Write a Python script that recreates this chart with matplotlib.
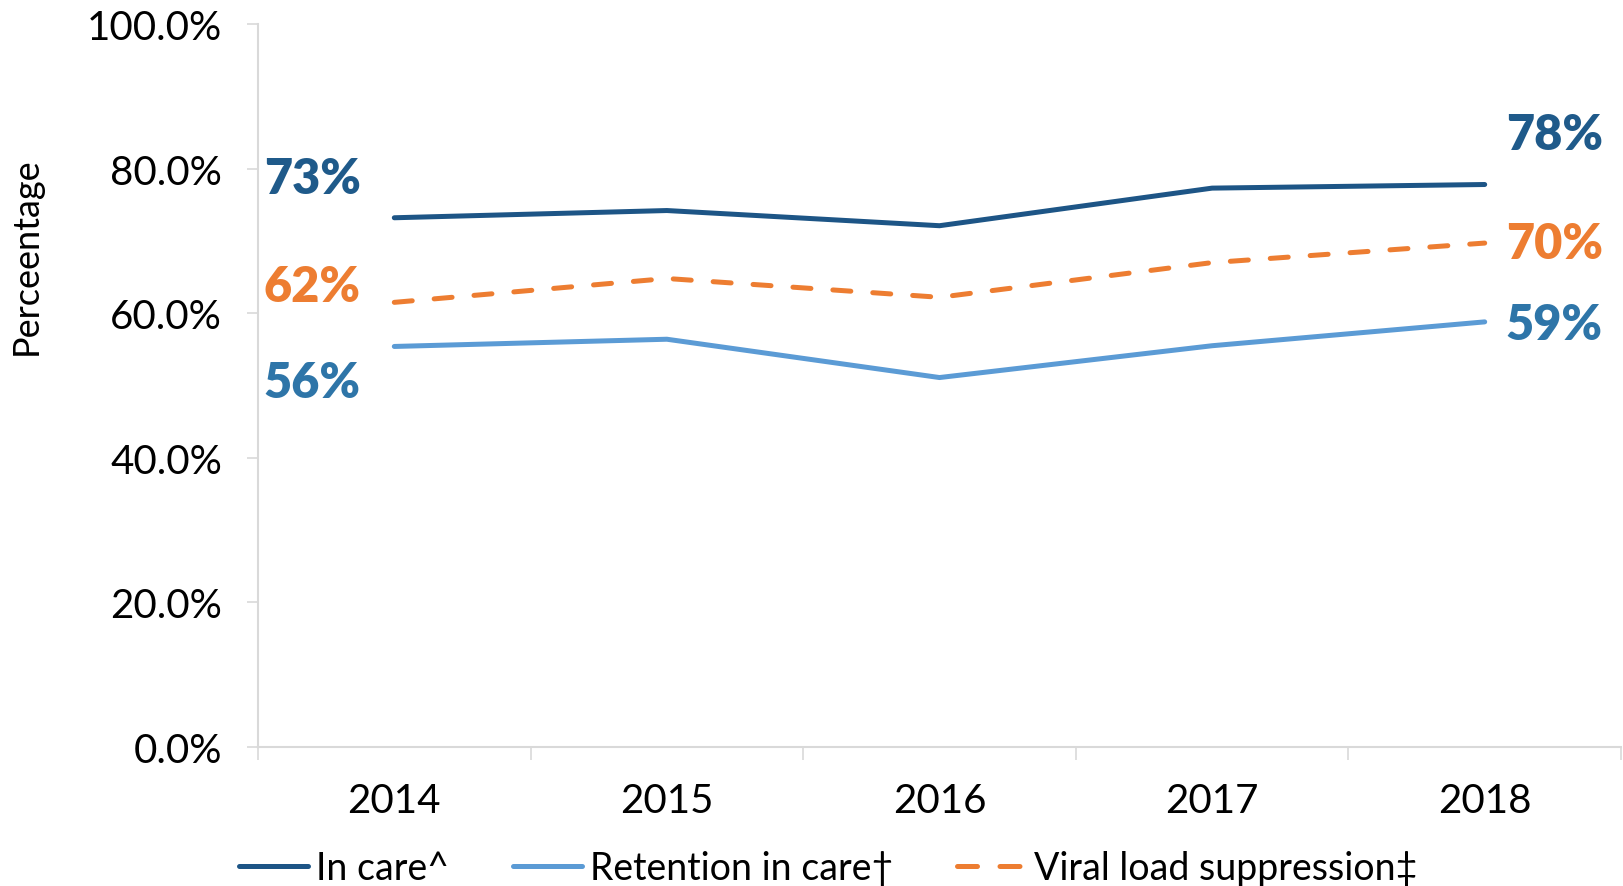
import matplotlib
matplotlib.use("Agg")
import matplotlib.pyplot as plt
from matplotlib.lines import Line2D

plt.rcParams['font.family'] = ['Lato', 'DejaVu Sans']

years = ["2014", "2015", "2016", "2017", "2018"]
in_care = [73.2, 74.2, 72.1, 77.3, 77.8]
retention = [55.4, 56.4, 51.1, 55.5, 58.8]
vls = [61.5, 64.8, 62.2, 67.0, 69.7]

series_names = ["In care^", "Retention in care\u2020", "Viral load suppression\u2021"]
start_labels = ["73%", "56%", "62%"]
end_labels = ["78%", "59%", "70%"]

c_care = "#1d5586"
c_ret = "#5b9bd5"
c_vls = "#ed7d31"
c_lab_care = "#1f5a8a"
c_lab_ret = "#2e75a8"

fig = plt.figure(figsize=(16.23, 8.87), dpi=100)
ax = fig.add_axes([258/1623, 139/887, (1621-258)/1623, (748-25)/887])

x = list(range(len(years)))
lw = 3.6
ax.plot(x, in_care, color=c_care, lw=lw, solid_capstyle='round', solid_joinstyle='round')
ax.plot(x, retention, color=c_ret, lw=lw, solid_capstyle='round', solid_joinstyle='round')
ax.plot(x, vls, color=c_vls, lw=lw, linestyle=(0, (3.6, 4.4)), dash_capstyle='round')

ax.set_xlim(-0.5, 4.5)
ax.set_ylim(0, 100)
ax.set_yticks([0, 20, 40, 60, 80, 100])
ax.set_yticklabels([f"{v:.1f}%" for v in [0, 20, 40, 60, 80, 100]], fontsize=29)
ax.set_xticks(x)
ax.set_xticklabels(years, fontsize=29)
ax.set_xticks([-0.5, 0.5, 1.5, 2.5, 3.5, 4.5], minor=True)
ax.tick_params(axis='x', which='major', length=0, pad=25)
ax.tick_params(axis='x', which='minor', length=9, width=1.2, color="#d9d9d9")
ax.tick_params(axis='y', length=8, width=1.2, color="#d9d9d9", pad=18)

for s in ['top', 'right']:
    ax.spines[s].set_visible(False)
for s in ['left', 'bottom']:
    ax.spines[s].set_color("#d9d9d9")
    ax.spines[s].set_linewidth(1.5)

ax.set_ylabel("Perceentage", fontsize=26)
ax.yaxis.set_label_coords(-0.158, 0.68)

# data labels
start_vals = [in_care[0], retention[0], vls[0]]
end_vals = [in_care[-1], retention[-1], vls[-1]]
colors_lab = [c_lab_care, c_lab_ret, c_vls]
start_off = [28, -26, 11.5]
end_off = [36, -2, 0]
for v, t, c, dy in zip(start_vals, start_labels, colors_lab, start_off):
    ax.annotate(t, xy=(0, v), xytext=(-59, dy), textcoords='offset points',
                ha='center', va='center', fontsize=35, fontweight='heavy', color=c)
for v, t, c, dy in zip(end_vals, end_labels, colors_lab, end_off):
    ax.annotate(t, xy=(4, v), xytext=(50, dy), textcoords='offset points',
                ha='center', va='center', fontsize=35, fontweight='heavy', color=c)

handles = [
    Line2D([], [], color=c_care, lw=lw, solid_capstyle='round'),
    Line2D([], [], color=c_ret, lw=lw, solid_capstyle='round'),
    Line2D([], [], color=c_vls, lw=lw, linestyle=(0, (4.0, 4.5)), dash_capstyle='round'),
]
fig.legend(handles, series_names, loc='center', bbox_to_anchor=(828/1623, 1 - 869/887),
           ncol=3, frameon=False, fontsize=27, handlelength=1.85, handletextpad=0.2,
           columnspacing=1.7)

fig.savefig("out.png", dpi=100)
